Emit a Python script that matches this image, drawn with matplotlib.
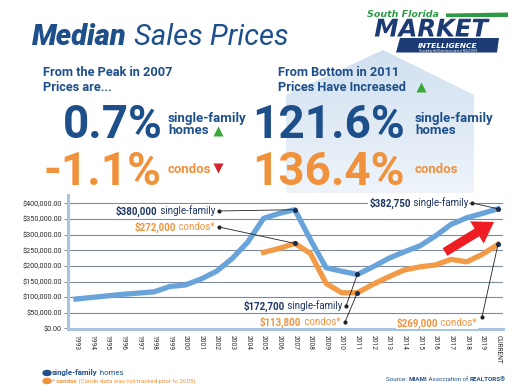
import matplotlib
matplotlib.use('Agg')
import matplotlib.pyplot as plt
import numpy as np
from matplotlib.patches import Polygon, Ellipse, FancyArrow, ConnectionPatch
from matplotlib.colors import LinearSegmentedColormap
import matplotlib.patheffects as pe

plt.rcParams['font.family'] = ['Roboto', 'DejaVu Sans']

# ---------------- data ----------------
years = ['1993', '1994', '1995', '1996', '1997', '1998', '1999', '2000', '2001',
         '2002', '2003', '2004', '2005', '2006', '2007', '2008', '2009', '2010',
         '2011', '2012', '2013', '2014', '2015', '2016', '2017', '2018', '2019',
         'CURRENT']
single_family = [94000, 99000, 104000, 109000, 113000, 117000, 134000, 139000,
                 158000, 183000, 224000, 277000, 352000, 368000, 380000, 284000,
                 194000, 183000, 172700, 197000, 224000, 245000, 264000, 296000,
                 333000, 354000, 368000, 382750]
condos = [np.nan] * 12 + [243000, 256000, 272000, 240000, 144000, 114000, 113800,
                          141000, 165000, 187000, 197000, 203000, 221000, 213000,
                          237000, 269000]
y_ticks = [0, 50000, 100000, 150000, 200000, 250000, 300000, 350000, 400000]
y_tick_labels = ['${:,.2f}'.format(v) for v in y_ticks]

# labelled points: (series, year label, bold part, regular part)
callouts = [
    ('sf', '2007', '$380,000', ' single-family'),
    ('condo', '2007', '$272,000', ' condos*'),
    ('sf', '2011', '$172,700', ' single-family'),
    ('condo', '2011', '$113,800', ' condos*'),
    ('sf', 'CURRENT', '$382,750', ' single-family'),
    ('condo', 'CURRENT', '$269,000', ' condos*'),
]
# text end (x), text centre (y), leader dot position  -- layout in pixels
callout_layout = [
    (215, 211, 219, 211),
    (215, 227, 219, 227),
    (342, 306, 346, 306),
    (340, 322, 345, 322),
    (468, 203, 472, 203),
    (477, 323, 482, 317),
]

# ---------------- colours ----------------
NAVY = '#1d4f8b'
NAVY_D = '#1c3461'
LOGO = '#1c3a73'
ORANGE = '#f0913b'
SF_COL = '#68a3da'
CONDO_COL = '#f29a45'
GREEN = '#3aa935'
RED = '#d4232a'

W, H = 521, 392
fig = plt.figure(figsize=(W / 100, H / 100), dpi=100)
fig.patch.set_facecolor('white')

# background layer (house shape)
bg = fig.add_axes([0, 0, 1, 1], zorder=-2)
bg.set_xlim(0, W); bg.set_ylim(H, 0); bg.axis('off')
house = Polygon([(286, 95), (383, 50), (474, 95), (474, 193), (286, 193)],
                closed=True, fc='none', ec='none')
bg.add_patch(house)
grad = np.linspace(0, 1, 100).reshape(-1, 1) * np.ones((1, 10))
cmap = LinearSegmentedColormap.from_list('h', ['#d1e0f0', '#eef4fa'])
im = bg.imshow(grad, extent=(286, 474, 193, 50), cmap=cmap, aspect='auto')
im.set_clip_path(house)

# ---------------- chart ----------------
ax = fig.add_axes([68 / W, 1 - 329 / H, (503 - 68) / W, 134 / H], zorder=0)
ax.patch.set_alpha(0)
x = np.arange(len(years))
ax.set_xlim(-0.51, 27.32)
ax.set_ylim(-2000, 427000)
for yv in y_ticks[1:]:
    ax.axhline(yv, color='#7f8a97', lw=0.8, zorder=1)
ax.plot(x, single_family, color=SF_COL, lw=3.8, solid_joinstyle='round', zorder=3)
ax.plot(x, condos, color=CONDO_COL, lw=3.8, solid_joinstyle='round', zorder=3)

ax.set_yticks(y_ticks)
ax.set_yticklabels(y_tick_labels)
ax.set_xticks(x)
ax.set_xticklabels(years, rotation=270)
ax.tick_params(axis='y', length=3, width=0.7, color='#8a8a8a', pad=1.5,
               labelsize=5.2, labelcolor='#2b2b2b')
ax.tick_params(axis='x', length=0, pad=4, labelsize=4.8, labelcolor='#2b2b2b')
for s in ['top', 'right']:
    ax.spines[s].set_visible(False)
for s in ['left', 'bottom']:
    ax.spines[s].set_color('#a9c4e0')
    ax.spines[s].set_linewidth(2.2)

# ---------------- overlay ----------------
ov = fig.add_axes([0, 0, 1, 1], zorder=5)
ov.set_xlim(0, W); ov.set_ylim(H, 0); ov.axis('off')
ov.patch.set_alpha(0)


def seq(parts, x0, y0, ha='left', **common):
    if ha == 'left':
        s, kw = parts[0]
        t = ov.text(x0, y0, s, ha='left', va='baseline', **{**common, **kw})
        first = t
        for s, kw in parts[1:]:
            t = ov.annotate(s, xy=(1, y0), xycoords=(t, 'data'), ha='left',
                            va='baseline', **{**common, **kw})
        return first
    s, kw = parts[-1]
    t = ov.text(x0, y0, s, ha='right', va='baseline', **{**common, **kw})
    for s, kw in reversed(parts[:-1]):
        t = ov.annotate(s, xy=(0, y0), xycoords=(t, 'data'), ha='right',
                        va='baseline', **{**common, **kw})
    return t


# title
seq([('Median', dict(weight='black')), (' Sales Prices', dict(weight='normal'))],
    32, 45, color=NAVY, fontsize=21, style='italic')

# logo
DJ = ['DejaVu Sans']
ov.add_patch(Polygon([(446, 13.5), (508, 12.5), (508, 17), (446, 17)], fc='#2d9b45', ec='none'))
ov.text(367, 17, 'South Florida', color='#2d9b45', weight='bold', style='italic',
        fontsize=6.8, va='baseline', family=DJ)
ov.add_patch(Polygon([(400, 38), (499, 38), (497, 52.5), (396, 52.5)], fc=LOGO, ec='none'))
ov.text(431, 36.5, 'MARKET', ha='center', va='baseline', fontsize=17.5, weight='bold',
        style='italic', color=LOGO, family=DJ,
        path_effects=[pe.withStroke(linewidth=1.2, foreground='white')])
ov.text(448, 47.5, 'INTELLIGENCE', ha='center', va='baseline', fontsize=5.4,
        weight='bold', style='italic', color='white', family=DJ)
ov.text(448, 51.6, 'Provided by the Miami Association of REALTORS\u00ae', ha='center',
        va='baseline', fontsize=1.9, color='white')

# headings
for yy, s in [(76, 'From the Peak in 2007'), (91, 'Prices are...')]:
    ov.text(43, yy, s, color=NAVY, weight='bold', fontsize=9.2, va='baseline')
for yy, s in [(76, 'From Bottom in 2011'), (91, 'Prices Have Increased')]:
    ov.text(278, yy, s, color=NAVY, weight='bold', fontsize=9.2, va='baseline')
ov.plot(421, 86.5, marker='^', ms=7, color=GREEN, mec='none')

# big numbers
big = dict(weight='bold', fontsize=33, va='baseline', ha='right')
ov.text(163, 138, '0.7%', color=NAVY, **big)
ov.text(161, 185, '-1.1%', color=ORANGE, **big)
ov.text(405, 138, '121.6%', color=NAVY, **big)
ov.text(405, 185, '136.4%', color=ORANGE, **big)

small = dict(weight='bold', fontsize=9.5, va='baseline')
ov.text(168, 122, 'single-family', color=NAVY, **small)
ov.text(168, 134, 'homes', color=NAVY, **small)
ov.text(168, 173, 'condos', color=ORANGE, **small)
ov.plot(218, 131, marker='^', ms=7, color=GREEN, mec='none')
ov.plot(218, 168, marker='v', ms=7, color=RED, mec='none')
ov.text(415, 122, 'single-family', color=NAVY, **small)
ov.text(415, 134, 'homes', color=NAVY, **small)
ov.text(415, 173, 'condos', color=ORANGE, **small)

# callouts
series = {'sf': single_family, 'condo': condos}
for (ser, yr, bold, reg), (tx, ty, dx, dy) in zip(callouts, callout_layout):
    col = NAVY_D if ser == 'sf' else ORANGE
    bb = dict(fc='white', ec='none', pad=0.6)
    seq([(bold, dict(weight='bold')), (reg, dict(weight='normal'))], tx, ty + 3.2,
        ha='right', color=col, fontsize=7, bbox=bb)
    i = years.index(yr)
    v = series[ser][i]
    ax.plot(i, v, 'o', ms=2.6, color='#1a2f55', zorder=4)
    ov.plot(dx, dy, 'o', ms=2.0, color='#222222')
    fig.add_artist(ConnectionPatch(xyA=(dx, dy), coordsA=ov.transData,
                                   xyB=(i, v), coordsB=ax.transData,
                                   color='#222222', lw=0.6, zorder=1))

# red arrow
ov.add_patch(FancyArrow(445, 252, 49, -30, width=9, head_width=26, head_length=20,
                        length_includes_head=True, color='#ee1d23', lw=0))

# legend
ov.add_patch(Ellipse((47, 373), 8, 5, color='#1f4f8b'))
ov.add_patch(Ellipse((47, 381), 8, 5, color=ORANGE))
seq([('single-family', dict(weight='bold')), (' homes', dict(weight='normal'))],
    52, 375, color=NAVY, fontsize=5.6)
seq([('* condos', dict(weight='bold')),
     (' (Condo data was not tracked prior to 2005)', dict(weight='normal'))],
    52, 383, color=ORANGE, fontsize=4.4)
seq([('Source: ', dict(weight='normal')), ('MIAMI', dict(weight='bold')),
     (' Association of ', dict(weight='normal')), ('REALTORS\u00ae', dict(weight='bold'))],
    386, 381, color=NAVY, fontsize=4.5)

fig.savefig('out.png', dpi=100)
